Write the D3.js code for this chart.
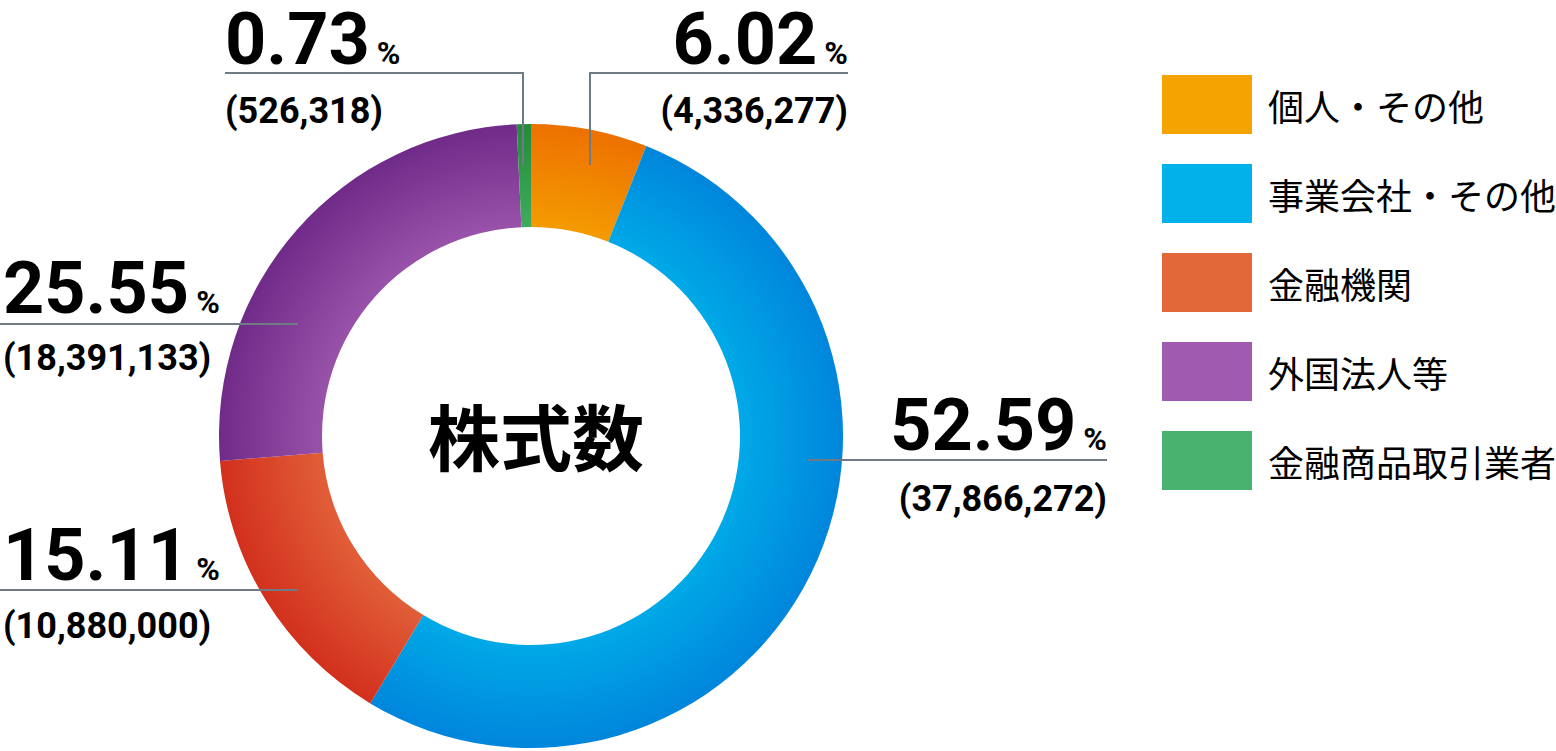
<!DOCTYPE html>
<html><head><meta charset="utf-8">
<script src="https://cdn.jsdelivr.net/npm/d3@7"></script>
<style>body{margin:0;background:#fff}svg{display:block}</style>
</head><body>
<svg id="chart" width="1556" height="751"></svg>
<script>
// ---- data ----
const categories = ["個人・その他", "事業会社・その他", "金融機関", "外国法人等", "金融商品取引業者"];
const shares = [4336277, 37866272, 10880000, 18391133, 526318];
const percentLabels = ["6.02", "52.59", "15.11", "25.55", "0.73"];
const shareLabels = ["(4,336,277)", "(37,866,272)", "(10,880,000)", "(18,391,133)", "(526,318)"];
const legendColors = ["#F4A300", "#00B1EA", "#E2683A", "#A05BB1", "#48B26F"];
const innerColors = ["#F49B00", "#00A9E7", "#E15E38", "#9852A9", "#40AB5E"];
const outerColors = ["#ED7100", "#0086DC", "#D2301D", "#702B89", "#238B3A"];
const centerTitle = "株式数";

// ---- layout ----
const W = 1556, H = 751;
const cx = 531, cy = 436, rOuter = 312, rInner = 209;
const svg = d3.select("#chart");
const defs = svg.append("defs");

categories.forEach((c, i) => {
  const g = defs.append("radialGradient").attr("id", "g" + i)
    .attr("gradientUnits", "userSpaceOnUse")
    .attr("cx", 0).attr("cy", 0).attr("r", rOuter);
  g.append("stop").attr("offset", rInner / rOuter).attr("stop-color", innerColors[i]);
  g.append("stop").attr("offset", 1).attr("stop-color", outerColors[i]);
});

const pie = d3.pie().sort(null).value(d => d);
const arcs = pie(shares);
const arc = d3.arc().innerRadius(rInner).outerRadius(rOuter);

svg.append("g").attr("transform", `translate(${cx},${cy})`)
  .selectAll("path").data(arcs).join("path")
  .attr("d", arc)
  .attr("fill", (d, i) => `url(#g${i})`);

// center title
svg.append("text").attr("x", 536).attr("y", 465)
  .attr("text-anchor", "middle")
  .attr("font-family", "'Noto Sans CJK JP', sans-serif")
  .attr("font-weight", 700).attr("font-size", 72)
  .attr("fill", "#000").text(centerTitle);

// label layout (annotation positions)
const labelLayout = [
  {anchor: "end",   x: 848,  base: 64,  lineY: 73,  x1: 590, x2: 848, leaderX: 590, leaderY: 165, sub: 123},
  {anchor: "end",   x: 1107, base: 450, lineY: 460, x1: 808, x2: 1107, sub: 511},
  {anchor: "start", x: 3,    base: 580, lineY: 590, x1: 0,   x2: 298, sub: 638},
  {anchor: "start", x: 3,    base: 313, lineY: 324, x1: 0,   x2: 298, sub: 370},
  {anchor: "start", x: 225,  base: 64,  lineY: 73,  x1: 225, x2: 523, leaderX: 523, leaderY: 165, sub: 123}
];

const lineColor = "#6E7B86";
const lab = svg.append("g");
labelLayout.forEach((L, i) => {
  lab.append("line").attr("x1", L.x1).attr("x2", L.x2).attr("y1", L.lineY).attr("y2", L.lineY)
    .attr("stroke", lineColor).attr("stroke-width", 2);
  if (L.leaderX !== undefined) {
    lab.append("line").attr("x1", L.leaderX).attr("x2", L.leaderX)
      .attr("y1", L.lineY - 1).attr("y2", L.leaderY)
      .attr("stroke", lineColor).attr("stroke-width", 2);
  }
  const t = lab.append("text").attr("x", L.x).attr("y", L.base)
    .attr("text-anchor", L.anchor)
    .attr("font-family", "Roboto, sans-serif").attr("font-weight", 700).attr("fill", "#000");
  t.append("tspan").attr("font-size", 72).text(percentLabels[i]);
  t.append("tspan").attr("font-size", 32).attr("dx", 7).text("%");
  lab.append("text").attr("x", L.x).attr("y", L.sub)
    .attr("text-anchor", L.anchor)
    .attr("font-family", "Roboto, sans-serif").attr("font-weight", 700)
    .attr("font-size", 36).attr("fill", "#000").text(shareLabels[i]);
});

// legend
const legend = svg.append("g");
categories.forEach((c, i) => {
  const y = 75 + i * 89;
  legend.append("rect").attr("x", 1162).attr("y", y).attr("width", 90).attr("height", 59)
    .attr("fill", legendColors[i]);
  legend.append("text").attr("x", 1268).attr("y", y + 30)
    .attr("dominant-baseline", "central")
    .attr("font-family", "'Noto Sans CJK JP', sans-serif")
    .attr("font-size", 36).attr("fill", "#000").text(c);
});
</script>
</body></html>
